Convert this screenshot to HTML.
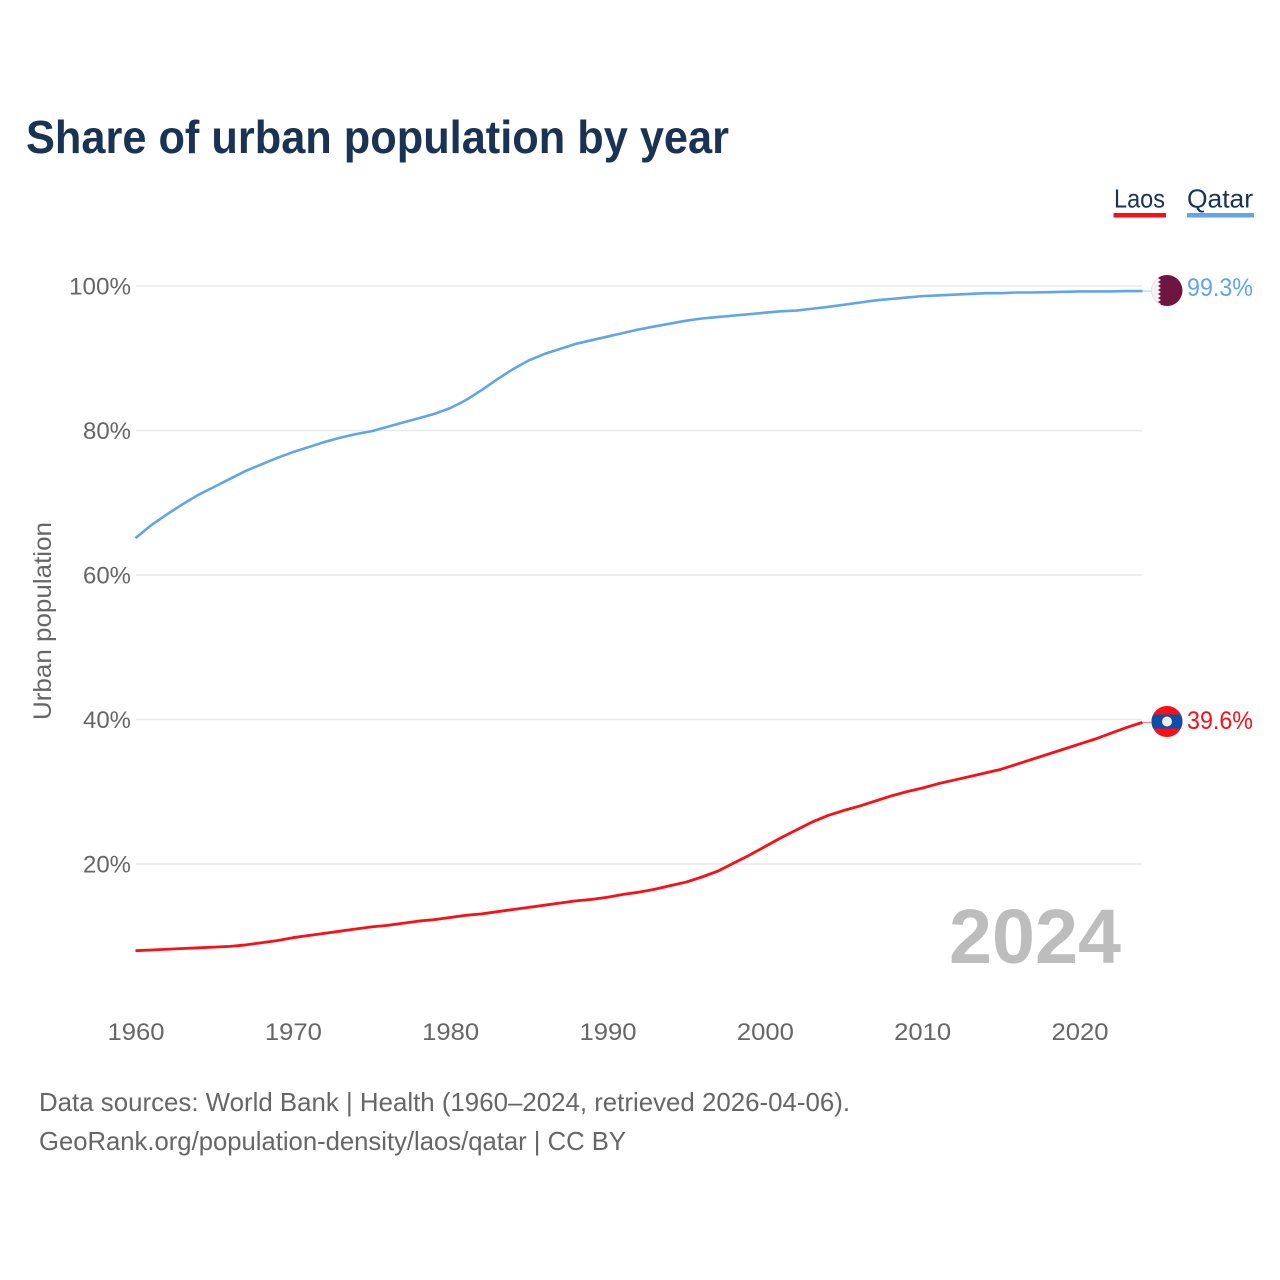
<!DOCTYPE html>
<html lang="en">
<head>
<meta charset="utf-8">
<title>Share of urban population by year</title>
<style>
html,body{margin:0;padding:0;background:#fff;}
svg{display:block;font-family:"Liberation Sans",sans-serif;}
</style>
</head>
<body>
<svg id="chart" xmlns="http://www.w3.org/2000/svg" width="1280" height="1280" viewBox="0 0 1280 1280">
  <rect x="0" y="0" width="1280" height="1280" fill="#ffffff"/>
  <text x="26" y="153" font-size="46" font-weight="700" fill="#1a3354" textLength="703" lengthAdjust="spacingAndGlyphs">Share of urban population by year</text>
  <g id="grid"></g>
  <g id="yticks"></g>
  <g id="xticks"></g>
  <text transform="translate(51,720) rotate(-90)" font-size="25" fill="#666666" textLength="198" lengthAdjust="spacingAndGlyphs">Urban population</text>
  <text x="949" y="963" font-size="77" font-weight="700" fill="#bdbdbd" textLength="172" lengthAdjust="spacingAndGlyphs">2024</text>
  <g id="series"></g>
  <defs>
    <clipPath id="qatar-clip"><circle id="qatar-clip-circle" cx="1167" cy="290.5" r="15.5"/></clipPath>
    <clipPath id="laos-clip"><circle id="laos-clip-circle" cx="1167" cy="721.5" r="15.5"/></clipPath>
  </defs>
  <g id="qatar-flag">
    <g clip-path="url(#qatar-clip)">
      <rect x="1150" y="274" width="34" height="33" fill="#6f1640"/>
      <polygon fill="#f1f1f1" points="1150,274 1158,274 1161,276 1158,278 1161,280 1158,282 1161,284 1158,286 1161,288 1158,290 1161,292 1158,294 1161,296 1158,298 1161,300 1158,302 1161,304 1158,306 1150,307"/>
    </g>
  </g>
  <g id="laos-flag">
    <g clip-path="url(#laos-clip)">
      <rect x="1150" y="705" width="34" height="33" fill="#fb0f16"/>
      <rect x="1150" y="714.5" width="34" height="14" fill="#0d4ea6"/>
      <circle cx="1167" cy="721.5" r="5" fill="#eeeeee"/>
    </g>
  </g>
  <text id="qatar-value" x="1187" y="296" font-size="25" fill="#60a5ec" textLength="66" lengthAdjust="spacingAndGlyphs"></text>
  <text id="laos-value" x="1187" y="729" font-size="25" fill="#fb0f16" textLength="66" lengthAdjust="spacingAndGlyphs"></text>
  <g>
    <g>
      <text x="1114" y="207.5" font-size="26" fill="#1a3354" textLength="51" lengthAdjust="spacingAndGlyphs">Laos</text>
      <rect x="1113.5" y="213" width="52.5" height="4.5" fill="#fb0f16"/>
    </g>
    <g>
      <text x="1187" y="207.5" font-size="26" fill="#1a3354" textLength="66" lengthAdjust="spacingAndGlyphs">Qatar</text>
      <rect x="1187" y="213" width="67" height="4.5" fill="#60a5ec"/>
    </g>
  </g>
  <text x="39" y="1111" font-size="26" fill="#666666" textLength="811" lengthAdjust="spacingAndGlyphs">Data sources: World Bank | Health (1960–2024, retrieved 2026-04-06).</text>
  <text x="39" y="1150" font-size="26" fill="#666666" textLength="587" lengthAdjust="spacingAndGlyphs">GeoRank.org/population-density/laos/qatar | CC BY</text>
</svg>
<script>
const years = [1960,1961,1962,1963,1964,1965,1966,1967,1968,1969,1970,1971,1972,1973,1974,1975,1976,1977,1978,1979,1980,1981,1982,1983,1984,1985,1986,1987,1988,1989,1990,1991,1992,1993,1994,1995,1996,1997,1998,1999,2000,2001,2002,2003,2004,2005,2006,2007,2008,2009,2010,2011,2012,2013,2014,2015,2016,2017,2018,2019,2020,2021,2022,2023,2024];
const qatarValues = [65.1,66.9,68.4,69.8,71.1,72.2,73.3,74.4,75.3,76.2,77.0,77.7,78.4,79.0,79.5,79.9,80.5,81.1,81.7,82.3,83.1,84.2,85.6,87.1,88.5,89.7,90.6,91.3,92.0,92.5,93.0,93.5,94.0,94.4,94.8,95.2,95.5,95.7,95.9,96.1,96.3,96.5,96.6,96.85,97.1,97.4,97.7,98.0,98.2,98.4,98.6,98.7,98.8,98.9,99.0,99.0,99.1,99.1,99.15,99.2,99.25,99.25,99.25,99.3,99.3];
const laosValues = [8.0,8.1,8.2,8.3,8.4,8.5,8.6,8.8,9.1,9.4,9.8,10.1,10.4,10.7,11.0,11.3,11.5,11.8,12.1,12.3,12.6,12.9,13.1,13.4,13.7,14.0,14.3,14.6,14.9,15.1,15.4,15.8,16.1,16.5,17.0,17.5,18.2,19.0,20.1,21.2,22.4,23.6,24.7,25.8,26.7,27.4,28.0,28.7,29.4,30.0,30.5,31.1,31.6,32.1,32.6,33.1,33.8,34.5,35.2,35.9,36.6,37.3,38.1,38.9,39.6];
const yTickValues = [20,40,60,80,100];
const xTickValues = [1960,1970,1980,1990,2000,2010,2020];

const NS = 'http://www.w3.org/2000/svg';
function xScale(year){ return 135.5 + (year - 1960) * (1079.5 - 135.5) / 60; }
function yScale(value){ return 286 + (100 - value) * 7.225; }

const grid = document.getElementById('grid');
const yticks = document.getElementById('yticks');
const xticks = document.getElementById('xticks');
const series = document.getElementById('series');

yTickValues.forEach(function(v){
  const line = document.createElementNS(NS,'line');
  
  
  line.setAttribute('x1', 136);
  line.setAttribute('x2', 1142);
  line.setAttribute('y1', yScale(v));
  line.setAttribute('y2', yScale(v));
  line.setAttribute('stroke', '#e9e9ec');
  line.setAttribute('stroke-width', 1.5);
  grid.appendChild(line);

  const t = document.createElementNS(NS,'text');
  
  
  t.setAttribute('x', 131);
  t.setAttribute('y', yScale(v) + 8.5);
  t.setAttribute('text-anchor', 'end');
  t.setAttribute('font-size', 24.5);
  t.setAttribute('fill', '#666666');
  t.setAttribute('textLength', v === 100 ? 62 : 48);
  t.setAttribute('lengthAdjust', 'spacingAndGlyphs');
  t.textContent = v + '%';
  yticks.appendChild(t);
});

xTickValues.forEach(function(y){
  const t = document.createElementNS(NS,'text');
  
  
  t.setAttribute('x', xScale(y) - 28);
  t.setAttribute('y', 1040);
  t.setAttribute('font-size', 24.5);
  t.setAttribute('fill', '#666666');
  t.setAttribute('textLength', 57);
  t.setAttribute('lengthAdjust', 'spacingAndGlyphs');
  t.textContent = y;
  xticks.appendChild(t);
});

function drawSeries(values, color, name, width){
  const d = values.map(function(v,i){
    return (i ? 'L' : 'M') + xScale(years[i]).toFixed(2) + ' ' + yScale(v).toFixed(2);
  }).join(' ');
  const path = document.createElementNS(NS,'path');
  
  
  path.setAttribute('d', d);
  path.setAttribute('fill', 'none');
  path.setAttribute('stroke', color);
  path.setAttribute('stroke-width', width);
  path.setAttribute('stroke-linejoin', 'round');
  series.appendChild(path);

  const lastX = xScale(years[years.length - 1]);
  const lastY = yScale(values[values.length - 1]);
  const conn = document.createElementNS(NS,'line');
  
  
  conn.setAttribute('x1', lastX);
  conn.setAttribute('x2', lastX + 9);
  conn.setAttribute('y1', lastY);
  conn.setAttribute('y2', lastY);
  conn.setAttribute('stroke', color);
  conn.setAttribute('stroke-width', 1);
  conn.setAttribute('stroke-opacity', 0.6);
  series.appendChild(conn);
}
drawSeries(qatarValues, '#60a5ec', 'qatar-line', 2.6);
drawSeries(laosValues, '#fb0f16', 'laos-line', 2.8);

document.getElementById('qatar-value').textContent = qatarValues[qatarValues.length - 1].toFixed(1) + '%';
document.getElementById('laos-value').textContent = laosValues[laosValues.length - 1].toFixed(1) + '%';
</script>
</body>
</html>
